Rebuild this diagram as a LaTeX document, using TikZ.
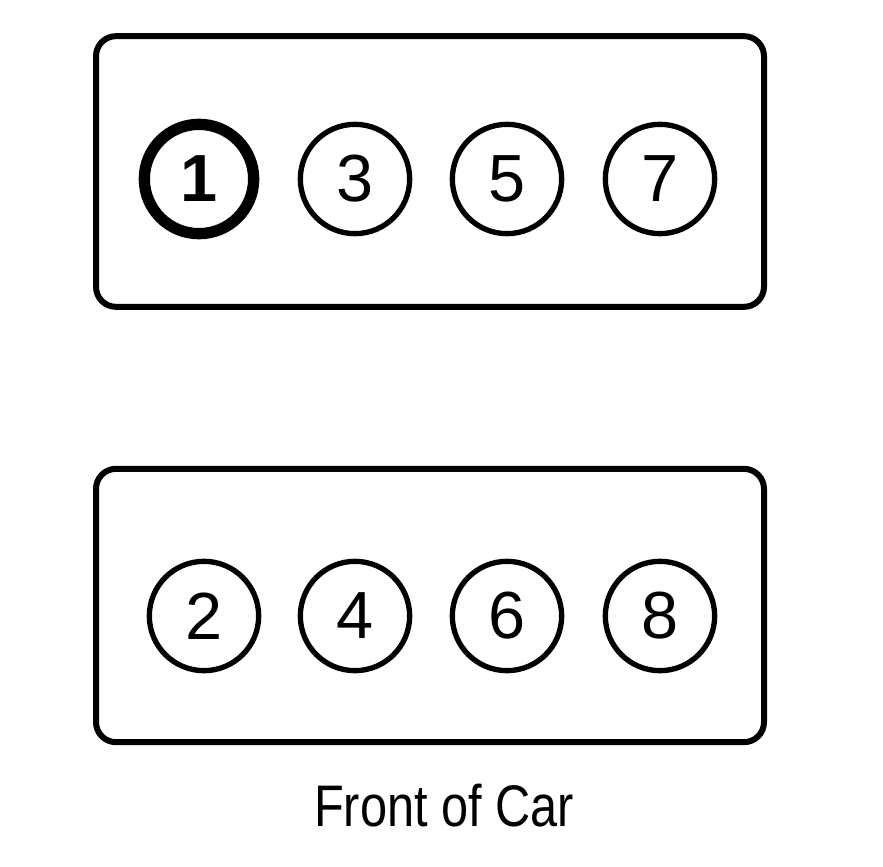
\documentclass[tikz,border=0pt]{standalone}
\usepackage{fontspec}
\setmainfont{Liberation Sans}
\usepackage{tikz}

\begin{document}
\begin{tikzpicture}[x=0.75pt, y=-0.75pt,
    bank/.style={draw, line width=4.5pt, rounded corners=15pt, minimum width=501pt, minimum height=203pt},
    cyl/.style={draw, circle, line width=4pt, minimum size=82pt, inner sep=0pt, font=\fontsize{50}{50}\selectfont}]

        \useasboundingbox (0,0) rectangle (883,867);

        % Banks
        \node (topbank) [bank] at (430,171.5) {};
        \node (botbank) [bank, minimum height=205pt] at (430,605.5) {};

        % Cylinders
        \node (c1) [cyl, line width=8.5pt] at (199,179) {\bfseries 1};
        \foreach \n/\x in {3/355, 5/507, 7/660} {
            \node (c\n) [cyl] at (\x,179) {\n};
        }
        \foreach \n/\x in {2/204, 4/355, 6/507, 8/660} {
            \node (c\n) [cyl] at (\x,616) {\n};
        }

        % Label
        \node (front) at (444,806) {\fontsize{44}{44}\selectfont\scalebox{0.83}[1]{Front of Car}};

    \end{tikzpicture}
\end{document}
